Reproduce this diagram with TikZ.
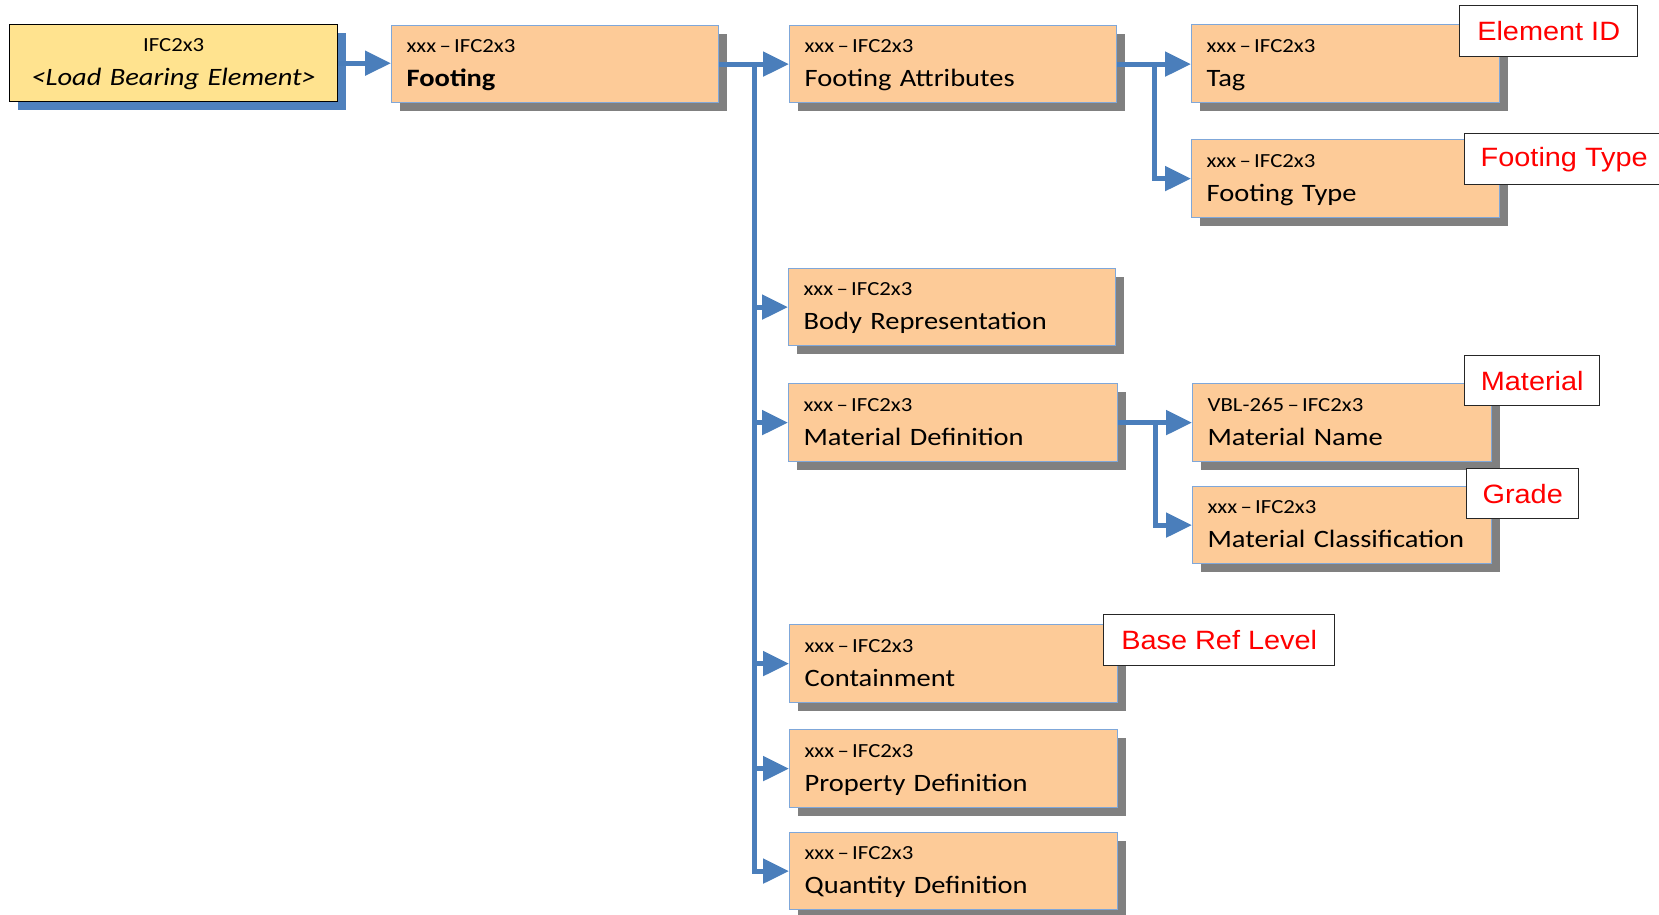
\documentclass[tikz,border=0pt]{standalone}
\usepackage{fontspec}
\setmainfont{Carlito}[FakeStretch=1.14]
\newfontfamily\notefont{Liberation Sans}[FakeStretch=1.09]
\usetikzlibrary{arrows.meta,shadows}

\definecolor{connblue}{HTML}{4A7EBB}
\definecolor{boxfill}{HTML}{FDCB98}
\definecolor{boxline}{HTML}{7FA7D9}
\definecolor{rootfill}{HTML}{FFE38F}
\definecolor{shadowgray}{HTML}{808080}
\definecolor{shadowblue}{HTML}{4F81BD}
\definecolor{notered}{HTML}{FF0000}

% small identifier line above the entity name
\newcommand{\ifcentry}[2]{{\fontsize{20}{24}\selectfont\rule{0pt}{14pt}#1}\\\smash{#2}\rule[-3pt]{0pt}{3pt}}

\tikzset{
  ifcbox/.style 2 args={draw=boxline, line width=1.2pt, fill=boxfill, anchor=north west,
    inner xsep=15pt, inner ysep=0pt, align=left, font=\fontsize{25}{34}\selectfont,
    minimum width=#1, text width=#2, minimum height=77pt,
    general shadow={fill=shadowgray, shadow xshift=8pt, shadow yshift=-8pt}},
  rootbox/.style={draw=black, line width=1.4pt, fill=rootfill, anchor=north west,
    inner xsep=0pt, inner ysep=0pt, align=center, font=\fontsize{25}{34}\selectfont,
    minimum width=328pt, text width=328pt, minimum height=77pt,
    general shadow={fill=shadowblue, shadow xshift=8pt, shadow yshift=-8pt}},
  notebox/.style={draw=black!85, line width=1.4pt, fill=white, anchor=north west,
    inner sep=0pt, font=\notefont\fontsize{26.5}{30}\selectfont, text=notered,
    minimum height=51pt},
  conn/.style={draw=connblue, line width=5pt, -{Triangle[length=26pt,width=24pt]}}
}

\begin{document}
\begin{tikzpicture}[x=1pt,y=-1pt]
\useasboundingbox[fill=white] (0,0) rectangle (1659,914);

% root element
\node[rootbox] (load) at (9,24)
  {{\fontsize{20}{24}\selectfont\rule{0pt}{14pt}IFC2x3}\\\smash{\itshape <Load Bearing Element>}\rule[-3pt]{0pt}{3pt}};

% entity boxes
\node[ifcbox={327pt}{297pt}] (foot) at (391,25) {\ifcentry{xxx\,–\,IFC2x3}{\bfseries Footing}};
\node[ifcbox={327pt}{297pt}] (fa) at (789,25) {\ifcentry{xxx\,–\,IFC2x3}{Footing Attributes}};
\node[ifcbox={308pt}{278pt}, minimum height=78pt] (tag) at (1191,24) {\ifcentry{xxx\,–\,IFC2x3}{Tag}};
\node[ifcbox={308pt}{278pt}, minimum height=78pt] (ftype) at (1191,139) {\ifcentry{xxx\,–\,IFC2x3}{Footing Type}};
\node[ifcbox={327pt}{297pt}] (body) at (788,268) {\ifcentry{xxx\,–\,IFC2x3}{Body Representation}};
\node[ifcbox={329pt}{299pt}, minimum height=78pt] (md) at (788,383) {\ifcentry{xxx\,–\,IFC2x3}{Material Definition}};
\node[ifcbox={299pt}{269pt}, minimum height=78pt] (mname) at (1192,383) {\ifcentry{VBL-265\,–\,IFC2x3}{Material Name}};
\node[ifcbox={299pt}{269pt}] (mclass) at (1192,486) {\ifcentry{xxx\,–\,IFC2x3}{Material Classification}};
\node[ifcbox={328pt}{298pt}, minimum height=78pt] (cont) at (789,624) {\ifcentry{xxx\,–\,IFC2x3}{Containment}};
\node[ifcbox={328pt}{298pt}, minimum height=78pt] (prop) at (789,729) {\ifcentry{xxx\,–\,IFC2x3}{Property Definition}};
\node[ifcbox={328pt}{298pt}] (qty) at (789,832) {\ifcentry{xxx\,–\,IFC2x3}{Quantity Definition}};

% connectors
\draw[conn] (load.east) -- (load.east -| foot.west);
\draw[conn] (foot.east) -- (fa.west);
\coordinate (j1) at ([xshift=35pt]foot.east);
\foreach \t in {body,md,cont,prop,qty}
  \draw[conn] (j1) |- (\t.west);
\draw[conn] (fa.east) -- (fa.east -| tag.west);
\coordinate (j2) at ([xshift=37pt]fa.east);
\draw[conn] (j2) |- (ftype.west);
\draw[conn] (md.east) -- (mname.west);
\coordinate (j3) at ([xshift=37pt]md.east);
\draw[conn] (j3) |- (mclass.west);

% annotations
\node[notebox, minimum width=178pt] (nid) at (1459,5) {Element ID};
\node[notebox, minimum width=199pt] (ntype) at (1464,133) {Footing Type};
\node[notebox, minimum width=135pt, minimum height=50pt] (nmat) at (1464,355) {Material};
\node[notebox, minimum width=112pt, minimum height=50pt] (ngrade) at (1466,468) {Grade};
\node[notebox, minimum width=231pt] (nbase) at (1103,614) {Base Ref Level};
\end{tikzpicture}
\end{document}
